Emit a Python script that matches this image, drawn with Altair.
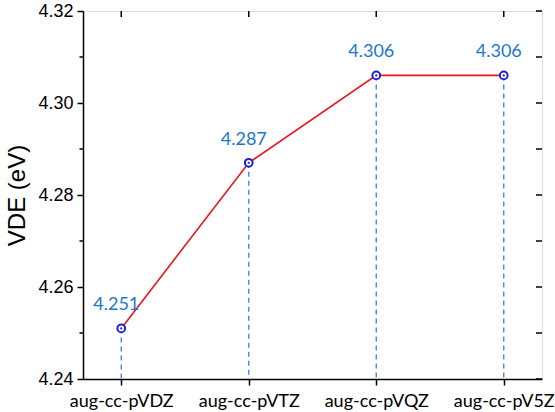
import altair as alt
import pandas as pd

# Basis sets and vertical detachment energies (eV)
basis = ["aug-cc-pVDZ", "aug-cc-pVTZ", "aug-cc-pVQZ", "aug-cc-pV5Z"]
vde = [4.251, 4.287, 4.306, 4.306]
vde_labels = ["4.251", "4.287", "4.306", "4.306"]

major_ticks = [4.24, 4.26, 4.28, 4.30, 4.32]
minor_ticks = [4.25, 4.27, 4.29, 4.31]
all_ticks = major_ticks + minor_ticks

y_min, y_max = 4.24, 4.32

W, H = 459, 368

df = pd.DataFrame({"basis": basis, "vde": vde, "label": vde_labels, "base": [y_min] * len(vde)})
minor_df = pd.DataFrame({"v": minor_ticks})
all_df = pd.DataFrame({"v": all_ticks})
cat_df = pd.DataFrame({"basis": basis})

x_scale = alt.Scale(type="point", domain=basis, padding=0.3)
y_scale = alt.Scale(domain=[y_min, y_max], zero=False, nice=False)

x_enc = alt.X(
    "basis:N",
    scale=x_scale,
    sort=basis,
    axis=alt.Axis(
        title=None,
        labelAngle=0,
        labelFont="Lato",
        labelFontSize=18,
        labelColor="black",
        labelPadding=7,
        tickSize=6,
        tickColor="black",
        tickWidth=1.5,
        domainColor="black",
        domainWidth=1.5,
        grid=False,
    ),
)
y_enc = alt.Y(
    "vde:Q",
    scale=y_scale,
    axis=alt.Axis(
        title="VDE (eV)",
        titleFont="Liberation Sans",
        titleFontSize=24,
        titleFontWeight="normal",
        titleColor="black",
        titlePadding=8,
        values=major_ticks,
        format=".2f",
        labelFont="Liberation Sans",
        labelFontSize=18,
        labelColor="black",
        labelPadding=4,
        tickSize=6,
        tickColor="black",
        tickWidth=1.5,
        domainColor="black",
        domainWidth=1.5,
        grid=False,
    ),
)

base = alt.Chart(df)

drop_lines = base.mark_rule(color="#3b7fe0", strokeDash=[5, 4], strokeWidth=1.3).encode(
    x=x_enc, y=y_enc, y2="base:Q"
)

line = base.mark_line(color="#e8161c", strokeWidth=1.6).encode(x=x_enc, y=y_enc)

ring = base.mark_point(
    shape="circle", filled=True, fill="white", stroke="#1d1de0", strokeWidth=2, size=60, opacity=1
).encode(x=x_enc, y=y_enc)

dot = base.mark_point(shape="circle", filled=True, color="#1d1de0", size=5, opacity=1).encode(
    x=x_enc, y=y_enc
)

labels = base.mark_text(
    font="Lato", fontSize=18, color="#1a78cc", dy=-23, dx=-5, baseline="middle", align="center"
).encode(x=x_enc, y=y_enc, text="label:N")

# Short outward minor ticks on the left axis
left_minor = alt.Chart(minor_df).mark_rule(color="black", strokeWidth=1.5).encode(
    y=alt.Y("v:Q", scale=y_scale), x=alt.value(-3.5), x2=alt.value(0)
)

# Inward ticks along the right frame
right_ticks = alt.Chart(all_df).mark_rule(color="black", strokeWidth=1.5).encode(
    y=alt.Y("v:Q", scale=y_scale), x=alt.value(W - 6), x2=alt.value(W)
)

# Inward ticks along the top frame
top_ticks = alt.Chart(cat_df).mark_rule(color="black", strokeWidth=1.5).encode(
    x=alt.X("basis:N", scale=x_scale, sort=basis), y=alt.value(0), y2=alt.value(6)
)

chart = (
    alt.layer(drop_lines, line, ring, dot, labels, left_minor, right_ticks, top_ticks)
    .properties(
        width=W,
        height=H,
        autosize=alt.AutoSizeParams(type="none"),
        padding={"left": 83, "top": 11, "right": 13, "bottom": 33},
    )
    .configure_view(stroke="black", strokeWidth=1.5)
    .configure(background="white")
)

chart.save("out.html", embed_options={"renderer": "svg", "actions": False})
